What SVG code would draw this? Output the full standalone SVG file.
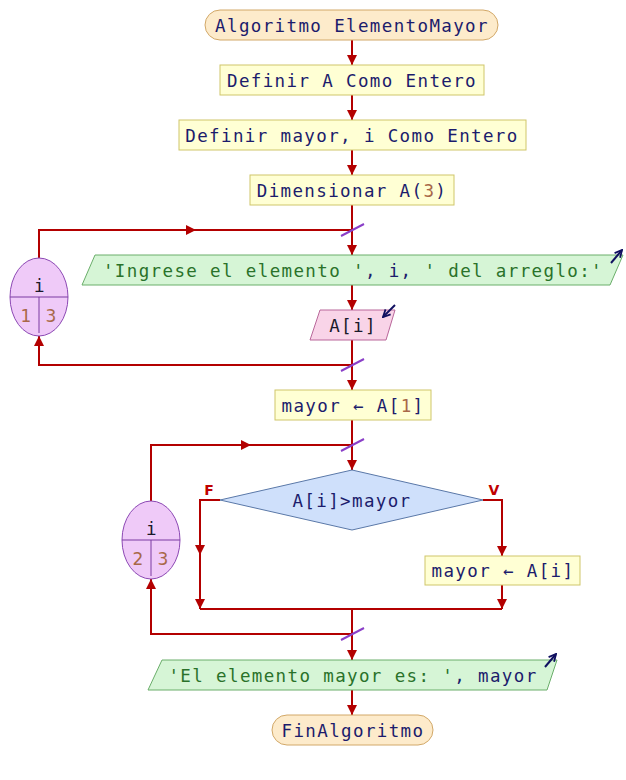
<svg xmlns="http://www.w3.org/2000/svg" width="626" height="780" viewBox="0 0 626 780">
<style>
.t{font-family:"DejaVu Sans Mono","Liberation Mono",monospace;font-size:17.5px;letter-spacing:1.37px;text-anchor:middle}
.code{fill:#1c1c6c}
.blk{fill:#1a1a2a}
.str{fill:#2a722a}
.num{fill:#a86848}
.n{font-family:"DejaVu Sans","Liberation Sans",sans-serif;font-size:17px;fill:#a86848;text-anchor:middle}
.term{fill:#fdebcb;stroke:#d2a868;stroke-width:1}
.proc{fill:#ffffd4;stroke:#cfc66a;stroke-width:1}
.io{fill:#d6f5d6;stroke:#6aae6a;stroke-width:1}
.rd{fill:#f9d4e8;stroke:#b9679a;stroke-width:1}
.dec{fill:#cfe0fb;stroke:#5a78a8;stroke-width:1}
.loop{fill:#efcaf8;stroke:#8c48b4;stroke-width:1}
.div{stroke:#7a3aa2;stroke-width:1;fill:none}
.c{fill:none;stroke:#b30000;stroke-width:2}
.sl{stroke:#8a3fc8;stroke-width:2}
.ic{fill:none;stroke:#101060;stroke-width:2}
.lb{font-family:"DejaVu Sans","Liberation Sans",sans-serif;font-size:14px;font-weight:bold;fill:#c00000;text-anchor:middle}
</style>
<defs>
<marker id="ah" viewBox="0 0 10 10" refX="10" refY="5" markerWidth="10" markerHeight="10" markerUnits="userSpaceOnUse" orient="auto">
<path d="M0,0 L10,5 L0,10 z" fill="#b30000"/>
</marker>
<marker id="ih" viewBox="0 0 10 10" refX="9" refY="5" markerWidth="9" markerHeight="9" markerUnits="userSpaceOnUse" orient="auto">
<path d="M1,1 L9,5 L1,9" fill="none" stroke="#101060" stroke-width="2"/>
</marker>
</defs>
<rect width="626" height="780" fill="#ffffff"/>

<g id="connectors">
<path class="c" d="M352,40 V65" marker-end="url(#ah)"/>
<path class="c" d="M352,95 V120" marker-end="url(#ah)"/>
<path class="c" d="M352,150 V175" marker-end="url(#ah)"/>
<path class="c" d="M352,205 V255" marker-end="url(#ah)"/>
<path class="c" d="M352,285 V310" marker-end="url(#ah)"/>
<path class="c" d="M352,340 V390" marker-end="url(#ah)"/>
<path class="c" d="M352,420 V470" marker-end="url(#ah)"/>
<path class="c" d="M352,609 V660" marker-end="url(#ah)"/>
<path class="c" d="M352,690 V715" marker-end="url(#ah)"/>
<path class="c" d="M39,258 V230 H196" marker-end="url(#ah)"/>
<path class="c" d="M195,230 H352"/>
<path class="c" d="M352,365 H39 V336" marker-end="url(#ah)"/>
<path class="c" d="M151,501 V445 H251" marker-end="url(#ah)"/>
<path class="c" d="M250,445 H352"/>
<path class="c" d="M352,634 H151 V579" marker-end="url(#ah)"/>
<path class="c" d="M220,500 H200 V555" marker-end="url(#ah)"/>
<path class="c" d="M200,554 V609" marker-end="url(#ah)"/>
<path class="c" d="M483,500 H502 V556" marker-end="url(#ah)"/>
<path class="c" d="M502,585 V609" marker-end="url(#ah)"/>
<path class="c" d="M200,609 H502"/>
<line class="sl" x1="341" y1="236" x2="364" y2="224"/>
<line class="sl" x1="341" y1="371" x2="364" y2="359"/>
<line class="sl" x1="341" y1="451" x2="364" y2="439"/>
<line class="sl" x1="341" y1="640" x2="364" y2="628"/>
<text class="lb" x="209" y="495">F</text>
<text class="lb" x="494" y="495">V</text>
</g>

<g id="start">
<rect class="term" x="205" y="10" width="293" height="30" rx="15"/>
<text class="t code" x="352" y="31.5">Algoritmo ElementoMayor</text>
</g>
<g id="defA">
<rect class="proc" x="220" y="65" width="264" height="30"/>
<text class="t code" x="352" y="86.5">Definir A Como Entero</text>
</g>
<g id="defMayor">
<rect class="proc" x="179" y="120" width="347" height="30"/>
<text class="t code" x="352" y="141.5">Definir mayor, i Como Entero</text>
</g>
<g id="dim">
<rect class="proc" x="250" y="175" width="204" height="30"/>
<text class="t code" x="352" y="196.5">Dimensionar A(<tspan class="num">3</tspan>)</text>
</g>
<g id="loop1">
<ellipse class="loop" cx="39" cy="297" rx="29" ry="39"/>
<line class="div" x1="10" y1="297" x2="68" y2="297"/>
<line class="div" x1="39" y1="297" x2="39" y2="333"/>
<text class="t blk" x="40" y="292">i</text>
<text class="n" x="26" y="322">1</text>
<text class="n" x="51" y="322">3</text>
</g>
<g id="write1">
<polygon class="io" points="95,255 623,255 610,285 82,285"/>
<text class="t str" x="353" y="276.5">'Ingrese el elemento '<tspan class="code">, i, </tspan>' del arreglo:'</text>
<path class="ic" d="M611,263 L622,250" marker-end="url(#ih)"/>
</g>
<g id="read">
<polygon class="rd" points="320,310 395,310 386,340 310,340"/>
<text class="t blk" x="353" y="331.5">A[i]</text>
<path class="ic" d="M395,305 L383,317" marker-end="url(#ih)"/>
</g>
<g id="assign1">
<rect class="proc" x="275" y="390" width="156" height="30"/>
<text class="t code" x="353" y="411.5">mayor ← A[<tspan class="num">1</tspan>]</text>
</g>
<g id="loop2">
<ellipse class="loop" cx="151" cy="540" rx="29" ry="39"/>
<line class="div" x1="122" y1="540" x2="180" y2="540"/>
<line class="div" x1="151" y1="540" x2="151" y2="576"/>
<text class="t blk" x="152" y="535">i</text>
<text class="n" x="138" y="565">2</text>
<text class="n" x="163" y="565">3</text>
</g>
<g id="decision">
<polygon class="dec" points="220,500 352,470 483,500 352,530"/>
<text class="t code" x="352" y="506.5">A[i]&gt;mayor</text>
</g>
<g id="assign2">
<rect class="proc" x="425" y="556" width="155" height="29"/>
<text class="t code" x="503" y="577">mayor ← A[i]</text>
</g>
<g id="write2">
<polygon class="io" points="162,660 557,660 547,690 148,690"/>
<text class="t str" x="353" y="681.5">'El elemento mayor es: '<tspan class="code">, mayor</tspan></text>
<path class="ic" d="M545,667 L556,654" marker-end="url(#ih)"/>
</g>
<g id="end">
<rect class="term" x="272" y="715" width="161" height="30" rx="15"/>
<text class="t code" x="353" y="736.5">FinAlgoritmo</text>
</g>
</svg>
